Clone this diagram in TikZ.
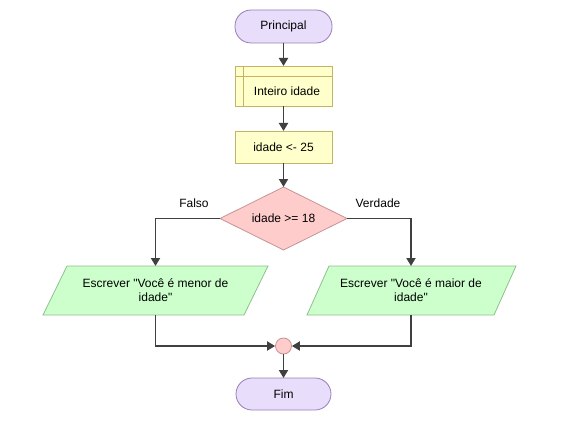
\documentclass[tikz,border=0pt]{standalone}
\usepackage{fontspec}
\newfontfamily\lsans{Liberation Sans}
\usetikzlibrary{shapes.geometric,arrows.meta}
\definecolor{termfill}{HTML}{E8DEFC}
\definecolor{termdraw}{HTML}{9A7CB6}
\definecolor{yfill}{HTML}{FFFFCC}
\definecolor{ydraw}{HTML}{C4B464}
\definecolor{rfill}{HTML}{FFCCCC}
\definecolor{rdraw}{HTML}{C49494}
\definecolor{gfill}{HTML}{CCFFCC}
\definecolor{gdraw}{HTML}{8FBF8F}
\definecolor{lineclr}{HTML}{404040}
\begin{document}
\begin{tikzpicture}[x=1pt,y=-1pt,
  every node/.style={font=\lsans\fontsize{12}{14.5}\selectfont, inner sep=0pt},
  term/.style={draw=termdraw, fill=termfill, line width=0.8pt, rounded corners=16pt},
  ybox/.style={draw=ydraw, fill=yfill, line width=0.8pt},
  dia/.style={draw=rdraw, fill=rfill, line width=0.8pt},
  para/.style={draw=gdraw, fill=gfill, line width=0.8pt},
  flow/.style={draw=lineclr, line width=1.8pt, -{Triangle[length=8pt,width=9pt]}},
  lbl/.style={text=black}]
\useasboundingbox (0,0) rectangle (570,441);
% Principal
\draw[term] (235,10) rectangle (332,43);
\node (principal) at (283.5,26.5) {Principal};
\coordinate (principalB) at (283.5,43);
% Declaration
\draw[ybox] (235,66) rectangle (332,106);
\draw[draw=ydraw, line width=0.8pt] (243,66) -- (243,106);
\draw[draw=ydraw, line width=0.8pt] (235,76) -- (332,76);
\node (decl) at (287,91) {Inteiro idade};
\coordinate (declT) at (283.5,66);
\coordinate (declB) at (283.5,106);
% Assignment
\draw[ybox] (235,131) rectangle (332,163);
\node (assign) at (283.5,147) {idade <- 25};
\coordinate (assignT) at (283.5,131);
\coordinate (assignB) at (283.5,163);
% Decision
\draw[dia] (283.5,187) -- (347,218.5) -- (283.5,250) -- (220,218.5) -- cycle;
\node (cond) at (283.5,218.5) {idade >= 18};
\coordinate (condT) at (283.5,187);
\coordinate (condL) at (220,218.5);
\coordinate (condR) at (347,218.5);
\node[lbl] (falso) at (194,203) {Falso};
\node[lbl] (verdade) at (378,203) {Verdade};
% Left output
\draw[para] (67,266) -- (268,266) -- (244,315) -- (43,315) -- cycle;
\node[align=center] (outL) at (155.5,290) {Escrever "Você é menor de\\idade"};
\coordinate (outLT) at (155.5,266);
\coordinate (outLB) at (155.5,315);
% Right output
\draw[para] (329,266) -- (516,266) -- (494,315) -- (307,315) -- cycle;
\node[align=center] (outR) at (411,290) {Escrever "Você é maior de\\idade"};
\coordinate (outRT) at (411,266);
\coordinate (outRB) at (411,315);
% Junction
\node[circle, draw=rdraw, fill=rfill, line width=0.8pt, minimum size=16pt] (join) at (283.5,346) {};
% Fim
\draw[term] (236,378) rectangle (331,410);
\node (fim) at (283.5,394) {Fim};
\coordinate (fimT) at (283.5,378);
% Connectors
\draw[flow] (principalB) -- (declT);
\draw[flow] (declB) -- (assignT);
\draw[flow] (assignB) -- (condT);
\draw[flow] (condL) -| (outLT);
\draw[flow] (condR) -| (outRT);
\draw[flow] (outLB) |- (join.west);
\draw[flow] (outRB) |- (join.east);
\draw[flow] (join.south) -- (fimT);
\end{tikzpicture}
\end{document}
